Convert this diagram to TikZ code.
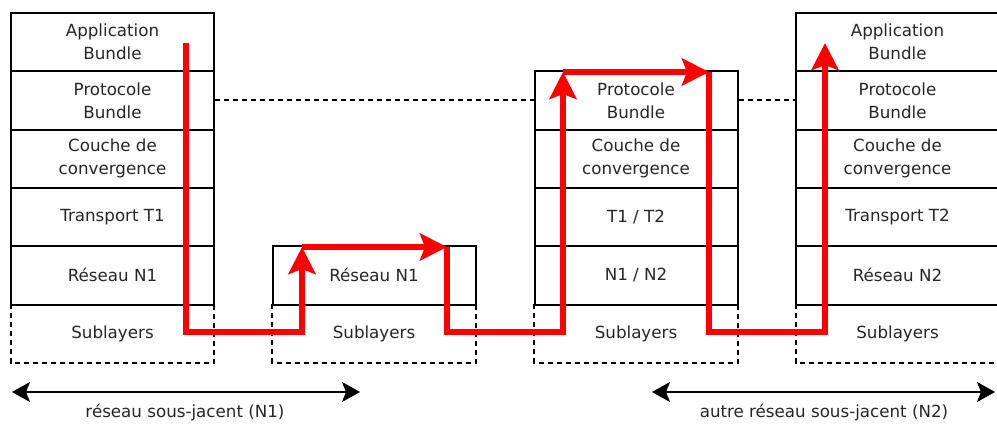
\documentclass[tikz,border=0pt]{standalone}
\usepackage{fontspec}
\setmainfont{DejaVu Sans}
\usetikzlibrary{arrows.meta}
\begin{document}
\begin{tikzpicture}[x=1pt,y=-1pt,
  txt/.style={font=\fontsize{16.7}{23}\selectfont, text=black!85},
  cell/.style={txt, draw=black, line width=2pt, minimum width=203pt, minimum height=58.3pt, inner sep=0pt, align=center},
  sub/.style={txt, minimum width=203pt, minimum height=58.3pt, inner sep=0pt, align=center},
  dashline/.style={black, line width=2pt, dash pattern=on 5pt off 4pt},
  route/.style={red, line width=5.5pt, line join=miter},
  routehead/.style={-{Stealth[length=27pt,width=27pt,inset=5pt]}},
  span/.style={black, line width=2pt, {Stealth[length=18pt,width=20pt,inset=4pt]}-{Stealth[length=18pt,width=20pt,inset=4pt]}}
]
\clip (0,0) rectangle (997,431);
\fill[white] (0,0) rectangle (997,431);

% stack 1
\node[cell] (a1) at (112.5,42.15) {Application\\Bundle};
\node[cell] (b1) at (112.5,100.45) {Protocole\\Bundle};
\node[cell] (c1) at (112.5,158.75) {Couche de\\convergence};
\node[cell] (d1) at (112.5,217.05) {Transport T1};
\node[cell] (e1) at (112.5,275.35) {Réseau N1};
\node[sub] (s1) at (112.5,333.65) {Sublayers};

% stack 2
\node[cell] (e2) at (374,275.35) {Réseau N1};
\node[sub] (s2) at (374,333.65) {Sublayers};

% stack 3
\node[cell] (b3) at (636,100.45) {Protocole\\Bundle};
\node[cell] (c3) at (636,158.75) {Couche de\\convergence};
\node[cell] (d3) at (636,217.05) {T1 / T2};
\node[cell] (e3) at (636,275.35) {N1 / N2};
\node[sub] (s3) at (636,333.65) {Sublayers};

% stack 4
\node[cell] (a4) at (897.5,42.15) {Application\\Bundle};
\node[cell] (b4) at (897.5,100.45) {Protocole\\Bundle};
\node[cell] (c4) at (897.5,158.75) {Couche de\\convergence};
\node[cell] (d4) at (897.5,217.05) {Transport T2};
\node[cell] (e4) at (897.5,275.35) {Réseau N2};
\node[sub] (s4) at (897.5,333.65) {Sublayers};

% dashed sublayer outlines
\foreach \s in {s1,s2,s3,s4}
  \draw[dashline] (\s.north west) -- (\s.south west) -- (\s.south east) -- (\s.north east);

% dashed peer links
\draw[dashline] (b1.east) -- (b3.west);
\draw[dashline] (b3.east) -- (b4.west);

% red route
\coordinate (p0) at (186,43);
\coordinate (p1) at (186,332);
\coordinate (p2) at (302,332);
\coordinate (p3) at (302,247);
\coordinate (p4) at (447,247);
\coordinate (p5) at (447,332);
\coordinate (p6) at (563,332);
\coordinate (p7) at (563,72);
\coordinate (p8) at (709,72);
\coordinate (p9) at (709,332);
\coordinate (p10) at (825,332);
\coordinate (p11) at (825,43);
\draw[route,routehead] (p0) -- (p1) -- (p2) -- (p3);
\draw[route,routehead] (p3) -- (p4);
\draw[route,routehead] (p4) -- (p5) -- (p6) -- (p7);
\draw[route,routehead] (p7) -- (p8);
\draw[route,routehead] (p8) -- (p9) -- (p10) -- (p11);

% spans
\coordinate (n1l) at (12,392);
\coordinate (n1r) at (360,392);
\coordinate (n2l) at (652,392);
\coordinate (n2r) at (995,392);
\draw[span] (n1l) -- (n1r);
\draw[span] (n2l) -- (n2r);
\node[txt] (l1) at (185,413) {réseau sous-jacent (N1)};
\node[txt] (l2) at (824,413) {autre réseau sous-jacent (N2)};
\end{tikzpicture}
\end{document}
